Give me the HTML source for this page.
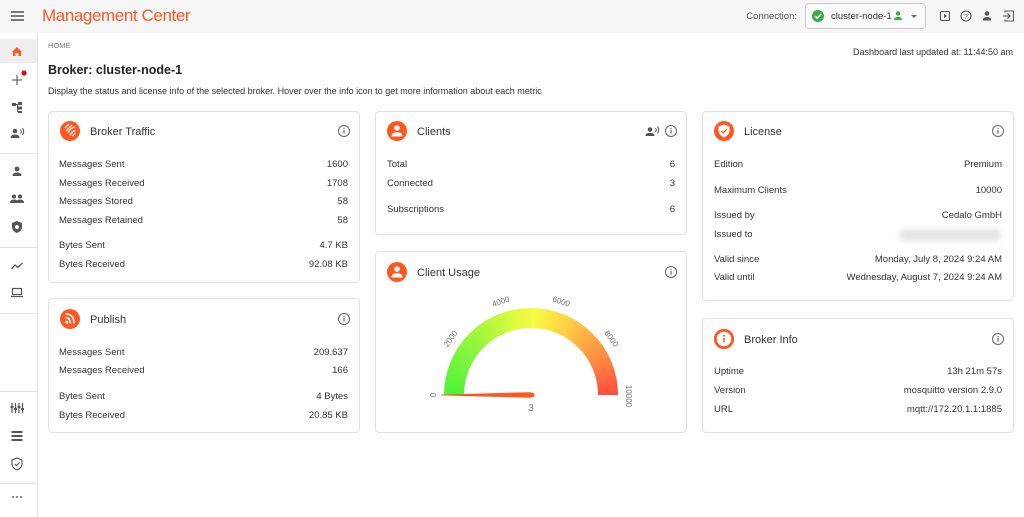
<!DOCTYPE html>
<html><head><meta charset="utf-8">
<style>
html,body{margin:0;padding:0;}
body{width:1024px;height:517px;position:relative;overflow:hidden;background:#fff;font-family:"Liberation Sans",Arial,sans-serif;color:#333;}
.t{position:absolute;white-space:nowrap;line-height:12px;}
.r{text-align:right;}
.card{position:absolute;border:1px solid #e2e2e2;border-radius:4px;background:#fff;box-sizing:border-box;}
.row{font-size:9.5px;color:#333;transform:translateY(1px);}
.ct{font-size:11px;color:#333;transform:translateY(1px);}
</style></head><body>
<div style="position:absolute;left:0;top:0;width:1024px;height:33px;background:#f6f6f6;"></div>
<div style="position:absolute;left:37px;top:33px;width:1px;height:484px;background:#e4e4e4;"></div>
<div style="position:absolute;left:0;top:39px;width:37px;height:24px;background:#eeeeee;"></div>

<div class="t" style="left:42px;top:5px;font-size:17px;letter-spacing:-0.4px;line-height:22px;color:#ff5722;">Management Center</div>
<div class="t r" style="right:227px;top:11px;font-size:9.5px;color:#555;">Connection:</div>
<div style="position:absolute;left:805px;top:3px;width:121px;height:26px;border:1px solid #c8c8c8;border-radius:4px;box-sizing:border-box;background:#fafafa;"></div>
<div class="t" style="left:831px;top:11px;font-size:9.5px;color:#333;">cluster-node-1</div>

<div class="t" style="left:48px;top:40px;font-size:7.5px;color:#777;">HOME</div>
<div class="t" style="left:48px;top:62px;font-size:12.5px;line-height:16px;font-weight:bold;color:#222;">Broker: cluster-node-1</div>
<div class="t" style="left:48px;top:85px;font-size:9px;color:#333;">Display the status and license info of the selected broker. Hover over the info icon to get more information about each metric</div>
<div class="t r" style="right:11px;top:46px;font-size:9px;color:#333;">Dashboard last updated at: 11:44:50 am</div>

<!-- cards -->
<div class="card" style="left:48px;top:111px;width:312px;height:172px;"></div>
<div class="card" style="left:48px;top:298px;width:312px;height:135px;"></div>
<div class="card" style="left:375px;top:111px;width:312px;height:124px;"></div>
<div class="card" style="left:375px;top:251px;width:312px;height:182px;"></div>
<div class="card" style="left:702px;top:111px;width:312px;height:190px;"></div>
<div class="card" style="left:702px;top:318px;width:312px;height:115px;"></div>

<!-- card titles -->
<div class="t ct" style="left:90px;top:125px;">Broker Traffic</div>
<div class="t ct" style="left:90px;top:313px;">Publish</div>
<div class="t ct" style="left:417px;top:125px;">Clients</div>
<div class="t ct" style="left:417px;top:266px;">Client Usage</div>
<div class="t ct" style="left:744px;top:125px;">License</div>
<div class="t ct" style="left:744px;top:333px;">Broker Info</div>

<!-- Broker Traffic rows -->
<div class="t row" style="left:59px;top:158px;">Messages Sent</div><div class="t row r" style="right:676px;top:158px;">1600</div>
<div class="t row" style="left:59px;top:177px;">Messages Received</div><div class="t row r" style="right:676px;top:177px;">1708</div>
<div class="t row" style="left:59px;top:195px;">Messages Stored</div><div class="t row r" style="right:676px;top:195px;">58</div>
<div class="t row" style="left:59px;top:214px;">Messages Retained</div><div class="t row r" style="right:676px;top:214px;">58</div>
<div class="t row" style="left:59px;top:239px;">Bytes Sent</div><div class="t row r" style="right:676px;top:239px;">4.7 KB</div>
<div class="t row" style="left:59px;top:258px;">Bytes Received</div><div class="t row r" style="right:676px;top:258px;">92.08 KB</div>

<!-- Publish rows -->
<div class="t row" style="left:59px;top:346px;">Messages Sent</div><div class="t row r" style="right:676px;top:346px;">209.637</div>
<div class="t row" style="left:59px;top:364px;">Messages Received</div><div class="t row r" style="right:676px;top:364px;">166</div>
<div class="t row" style="left:59px;top:390px;">Bytes Sent</div><div class="t row r" style="right:676px;top:390px;">4 Bytes</div>
<div class="t row" style="left:59px;top:409px;">Bytes Received</div><div class="t row r" style="right:676px;top:409px;">20.85 KB</div>

<!-- Clients rows -->
<div class="t row" style="left:387px;top:158px;">Total</div><div class="t row r" style="right:349px;top:158px;">6</div>
<div class="t row" style="left:387px;top:177px;">Connected</div><div class="t row r" style="right:349px;top:177px;">3</div>
<div class="t row" style="left:387px;top:203px;">Subscriptions</div><div class="t row r" style="right:349px;top:203px;">6</div>

<!-- License rows -->
<div class="t row" style="left:714px;top:158px;">Edition</div><div class="t row r" style="right:22px;top:158px;">Premium</div>
<div class="t row" style="left:714px;top:184px;">Maximum Clients</div><div class="t row r" style="right:22px;top:184px;">10000</div>
<div class="t row" style="left:714px;top:209px;">Issued by</div><div class="t row r" style="right:22px;top:209px;">Cedalo GmbH</div>
<div class="t row" style="left:714px;top:228px;">Issued to</div>
<div style="position:absolute;left:900px;top:229px;width:100px;height:12px;background:#e4e4e4;filter:blur(3px);"></div>
<div class="t row" style="left:714px;top:253px;">Valid since</div><div class="t row r" style="right:22px;top:253px;">Monday, July 8, 2024 9:24 AM</div>
<div class="t row" style="left:714px;top:271px;">Valid until</div><div class="t row r" style="right:22px;top:271px;">Wednesday, August 7, 2024 9:24 AM</div>

<!-- Broker info rows -->
<div class="t row" style="left:714px;top:365px;">Uptime</div><div class="t row r" style="right:22px;top:365px;">13h 21m 57s</div>
<div class="t row" style="left:714px;top:384px;">Version</div><div class="t row r" style="right:22px;top:384px;">mosquitto version 2.9.0</div>
<div class="t row" style="left:714px;top:403px;">URL</div><div class="t row r" style="right:22px;top:403px;">mqtt://172.20.1.1:1885</div>

<!-- gauge -->
<div style="position:absolute;left:444px;top:308px;width:174px;height:87px;border-radius:87px 87px 0 0;background:conic-gradient(from 270deg at 50% 100%, #4cf43a 0deg, #8ff63c 40deg, #d6fa3e 75deg, #f7fb44 92deg, #ffd444 115deg, #ff9a42 145deg, #ff4c3e 180deg, #ff4c3e 360deg);"></div>
<div style="position:absolute;left:464px;top:328px;width:134px;height:67px;border-radius:67px 67px 0 0;background:#fff;"></div>

<svg width="1024" height="517" style="position:absolute;left:0;top:0;" xmlns="http://www.w3.org/2000/svg">
<g fill="none" stroke="#555" stroke-width="1.5">
<line x1="11" y1="12" x2="24" y2="12"/><line x1="11" y1="16" x2="24" y2="16"/><line x1="11" y1="20" x2="24" y2="20"/>
</g>
<!-- sidebar dividers -->
<g stroke="#e4e4e4" stroke-width="1">
<line x1="0" y1="153.5" x2="37" y2="153.5"/><line x1="0" y1="247.5" x2="37" y2="247.5"/><line x1="0" y1="313.5" x2="37" y2="313.5"/><line x1="0" y1="391.5" x2="37" y2="391.5"/><line x1="0" y1="483.5" x2="37" y2="483.5"/>
</g>
<!-- home -->
<path d="M12,52 L17,47 L22,52 L21,52 L21,56 L18.5,56 L18.5,53 L15.5,53 L15.5,56 L13,56 L13,52 Z" fill="#ff5722"/>
<!-- plus -->
<g stroke="#666" stroke-width="1.2"><line x1="12" y1="80" x2="22" y2="80"/><line x1="17" y1="75" x2="17" y2="85"/></g>
<circle cx="24" cy="73" r="2.6" fill="#e8000b"/>
<!-- tree -->
<g fill="#555"><rect x="12" y="103" width="4" height="3"/><rect x="18" y="102" width="4" height="3"/><rect x="18" y="106.5" width="4" height="3"/><rect x="18" y="111" width="4" height="2"/><rect x="16" y="104" width="2" height="1"/><rect x="17" y="104" width="1" height="8"/></g>
<!-- person voice -->
<g fill="#555"><circle cx="15" cy="131" r="2.3"/><path d="M10.5,138 Q10.5,134.5 15,134.5 Q19.5,134.5 19.5,138 Z"/></g>
<g fill="none" stroke="#555" stroke-width="1"><path d="M20.5,129.5 Q22,131.5 20.5,133.5"/><path d="M22.5,128 Q25,131.5 22.5,135"/></g>
<!-- person -->
<g fill="#555"><circle cx="17" cy="169" r="2.4"/><path d="M12.5,176 Q12.5,172.5 17,172.5 Q21.5,172.5 21.5,176 Z"/></g>
<!-- people -->
<g fill="#555"><circle cx="14" cy="196.5" r="2"/><circle cx="20" cy="196.5" r="2"/><path d="M10,203 Q10,199.5 14,199.5 Q18,199.5 18,203 Z"/><path d="M16,203 Q16,199.5 20,199.5 Q24,199.5 24,203 Z"/></g>
<!-- shield -->
<path d="M17,221 L22,223 L22,227 Q22,231 17,233 Q12,231 12,227 L12,223 Z" fill="#555"/>
<circle cx="17" cy="227" r="2" fill="#fff"/>
<!-- trending -->
<polyline points="11.5,269 15,265 18,267.5 22.5,263" fill="none" stroke="#555" stroke-width="1.3"/>
<!-- laptop -->
<rect x="12.5" y="288.5" width="9" height="6" fill="none" stroke="#555" stroke-width="1.2"/>
<line x1="11" y1="296.5" x2="23" y2="296.5" stroke="#555" stroke-width="1.2"/>
<!-- tune -->
<g stroke="#555" stroke-width="1.2"><line x1="12" y1="403" x2="12" y2="413"/><line x1="15.5" y1="403" x2="15.5" y2="413"/><line x1="19" y1="403" x2="19" y2="413"/><line x1="22.5" y1="403" x2="22.5" y2="413"/></g>
<g fill="#555"><rect x="10.5" y="406" width="3" height="2"/><rect x="14" y="408" width="3" height="2"/><rect x="17.5" y="406" width="3" height="2"/><rect x="21" y="408" width="3" height="2"/></g>
<!-- list -->
<g fill="#555"><rect x="11.5" y="431" width="11" height="2"/><rect x="11.5" y="435" width="11" height="2"/><rect x="11.5" y="439" width="11" height="2"/></g>
<!-- shield check -->
<path d="M17,458 L22,460 L22,464 Q22,468 17,470 Q12,468 12,464 L12,460 Z" fill="none" stroke="#555" stroke-width="1.1"/>
<polyline points="14.8,464 16.5,465.7 19.5,462.5" fill="none" stroke="#555" stroke-width="1.1"/>
<!-- dots -->
<g fill="#666"><circle cx="13" cy="497" r="1"/><circle cx="17" cy="497" r="1"/><circle cx="21" cy="497" r="1"/></g>

<!-- header connection -->
<circle cx="818" cy="16" r="6" fill="#3dae45"/>
<polyline points="815,16 817.2,18.2 821,14" fill="none" stroke="#fff" stroke-width="1.5"/>
<g fill="#3dae45"><circle cx="898" cy="13.5" r="2.2"/><path d="M894,20 Q894,16.7 898,16.7 Q902,16.7 902,20 Z"/></g>
<path d="M911,15 L917,15 L914,18 Z" fill="#666"/>
<!-- header right icons -->
<rect x="940.5" y="11.5" width="9" height="9" rx="1" fill="none" stroke="#555" stroke-width="1.1"/>
<path d="M944,13.8 L947,16 L944,18.2 Z" fill="#555"/>
<circle cx="966" cy="16" r="5" fill="none" stroke="#555" stroke-width="1.1"/>
<text x="966" y="19" font-size="7.5" text-anchor="middle" fill="#555" font-family="Liberation Sans, sans-serif">?</text>
<g fill="#555"><circle cx="987" cy="13.5" r="2.3"/><path d="M982.8,20.5 Q982.8,17 987,17 Q991.2,17 991.2,20.5 Z"/></g>
<path d="M1005,12.5 L1005,11 L1013.5,11 L1013.5,21 L1005,21 L1005,19.5" fill="none" stroke="#555" stroke-width="1.1"/>
<line x1="1003" y1="16" x2="1010" y2="16" stroke="#555" stroke-width="1.1"/>
<polyline points="1007.5,13.5 1010,16 1007.5,18.5" fill="none" stroke="#555" stroke-width="1.1"/>

<!-- card icons -->
<circle cx="70" cy="131" r="10" fill="#ff5722"/>
<g fill="none" stroke="#fff" stroke-width="1.2">
<path d="M65,128 L69,124"/><path d="M66,131 L72,125"/><path d="M68,133 Q70,128 75,127"/><path d="M70,135.5 Q72,131 75.5,130.5"/><path d="M72.5,136 Q73.5,134 75.5,133.5"/>
</g>
<circle cx="70" cy="319" r="10" fill="#ff5722"/>
<circle cx="66.8" cy="322.3" r="1.5" fill="#fff"/>
<g fill="none" stroke="#fff" stroke-width="1.6"><path d="M65.5,317.5 Q70,317.5 70.5,323.5"/><path d="M65.5,314 Q74,314 74,323.5"/></g>
<circle cx="397" cy="131" r="10" fill="#ff5722"/>
<g fill="#fff"><circle cx="397" cy="128" r="2.8"/><path d="M391.5,136.5 Q391.5,132.3 397,132.3 Q402.5,132.3 402.5,136.5 Z"/></g>
<circle cx="397" cy="272" r="10" fill="#ff5722"/>
<g fill="#fff"><circle cx="397" cy="269" r="2.8"/><path d="M391.5,277.5 Q391.5,273.3 397,273.3 Q402.5,273.3 402.5,277.5 Z"/></g>
<circle cx="724" cy="131" r="10" fill="#ff5722"/>
<path d="M724,124.5 L729.5,126.5 L729.5,130.5 Q729.5,135 724,137.5 Q718.5,135 718.5,130.5 L718.5,126.5 Z" fill="#fff"/>
<polyline points="721.5,131 723.3,132.8 726.8,129.2" fill="none" stroke="#ff5722" stroke-width="1.3"/>
<circle cx="724" cy="339" r="8.7" fill="#fff" stroke="#ff5722" stroke-width="2.8"/>
<rect x="723.2" y="338" width="1.6" height="4.5" fill="#ff5722"/><circle cx="724" cy="335.8" r="0.95" fill="#ff5722"/>
<!-- info icons -->
<g fill="none" stroke="#666" stroke-width="1">
<circle cx="344" cy="131" r="5.5"/><circle cx="344" cy="319" r="5.5"/><circle cx="671" cy="131" r="5.5"/><circle cx="671" cy="272" r="5.5"/><circle cx="998" cy="131" r="5.5"/><circle cx="998" cy="339" r="5.5"/>
</g>
<g fill="#666">
<rect x="343.4" y="130" width="1.2" height="3.6"/><circle cx="344" cy="128.4" r="0.7"/>
<rect x="343.4" y="318" width="1.2" height="3.6"/><circle cx="344" cy="316.4" r="0.7"/>
<rect x="670.4" y="130" width="1.2" height="3.6"/><circle cx="671" cy="128.4" r="0.7"/>
<rect x="670.4" y="271" width="1.2" height="3.6"/><circle cx="671" cy="269.4" r="0.7"/>
<rect x="997.4" y="130" width="1.2" height="3.6"/><circle cx="998" cy="128.4" r="0.7"/>
<rect x="997.4" y="338" width="1.2" height="3.6"/><circle cx="998" cy="336.4" r="0.7"/>
</g>
<!-- clients voice icon -->
<g fill="#555"><circle cx="650" cy="129.5" r="2.3"/><path d="M645.5,136 Q645.5,132.8 650,132.8 Q654.5,132.8 654.5,136 Z"/></g>
<g fill="none" stroke="#555" stroke-width="1"><path d="M655.5,128 Q657,130 655.5,132"/><path d="M657.5,126.5 Q660,130 657.5,133.5"/></g>

<!-- gauge needle + labels -->
<path d="M441,394.6 L530,392.2 L533.5,393 Q535.5,395 533.5,397 L530,397.8 L441,395.4 Z" fill="#ff5722"/>
<g font-family="Liberation Sans, sans-serif" font-size="8" fill="#6f6f6f" text-anchor="middle" dominant-baseline="middle">
<text x="434" y="395" transform="rotate(-90 434 395)">0</text>
<text x="451" y="339" transform="rotate(-54 451 339)">2000</text>
<text x="501" y="302" transform="rotate(-18 501 302)">4000</text>
<text x="561" y="302" transform="rotate(18 561 302)">6000</text>
<text x="611" y="339" transform="rotate(54 611 339)">8000</text>
<text x="628" y="396" transform="rotate(90 628 396)">10000</text>
</g>
<text x="531" y="411" font-family="Liberation Sans, sans-serif" font-size="10" fill="#777" text-anchor="middle">3</text>
</svg>
</body></html>
